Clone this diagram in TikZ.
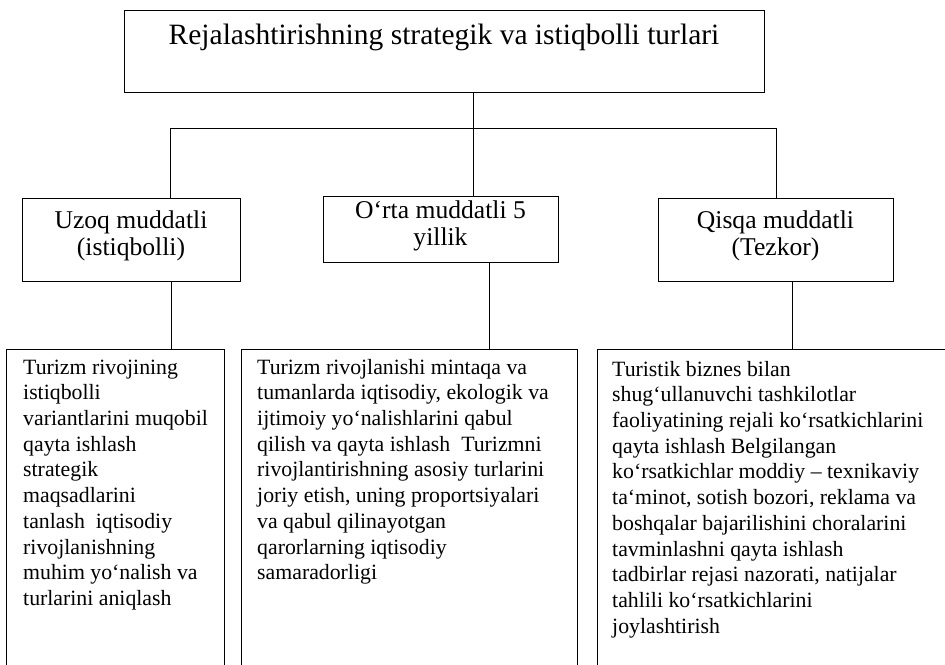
\documentclass[tikz,border=0pt]{standalone}
\usepackage{fontspec}
\setmainfont{Liberation Serif}
\begin{document}
\begin{tikzpicture}[x=1pt,y=-1pt,
  box/.style={draw, line width=0.9pt, inner sep=0pt, outer sep=0pt, anchor=north west, rectangle},
  link/.style={draw, line width=0.9pt},
  titletext/.style={font=\fontsize{29.5}{34}\selectfont, anchor=base, inner sep=0pt},
  labeltext/.style={font=\fontsize{25.6}{27}\selectfont, align=center, anchor=north, inner sep=0pt},
  bodytext/.style={font=\fontsize{21.8}{25.7}\selectfont, align=left, anchor=north west, inner sep=0pt}]
\useasboundingbox (0,0) rectangle (945,664);
\clip (0,0) rectangle (945,664);
% boxes
\node[box, minimum width=640pt, minimum height=82pt] (top) at (124,10) {};
\node[box, minimum width=218pt, minimum height=83pt] (lbox) at (22,198) {};
\node[box, minimum width=235pt, minimum height=66pt] (mbox) at (323,196) {};
\node[box, minimum width=235pt, minimum height=83pt] (rbox) at (658,198) {};
\node[box, minimum width=218pt, minimum height=360pt] (lowl) at (6,349) {};
\node[box, minimum width=336pt, minimum height=360pt] (lowm) at (241,349) {};
\node[box, minimum width=400pt, minimum height=360pt] (lowr) at (597,349) {};
% texts
\node[titletext] (ttitle) at (444,44) {Rejalashtirishning strategik va istiqbolli turlari};
\node[labeltext] (tl) at (131,209) {\strut Uzoq muddatli\\(istiqbolli)};
\node[labeltext] (tm) at (440.5,199) {\strut O`rta muddatli 5\\yillik};
\node[labeltext] (tr) at (775.5,209) {\strut Qisqa muddatli\\(Tezkor)};
\node[bodytext] (bl) at (23,356) {\strut Turizm rivojining\\istiqbolli\\variantlarini muqobil\\qayta ishlash\\strategik\\maqsadlarini\\tanlash~~iqtisodiy\\rivojlanishning\\muhim yo`nalish va\\turlarini aniqlash};
\node[bodytext] (bm) at (257,356) {\strut Turizm rivojlanishi mintaqa va\\tumanlarda iqtisodiy, ekologik va\\ijtimoiy yo`nalishlarini qabul\\qilish va qayta ishlash~~Turizmni\\rivojlantirishning asosiy turlarini\\joriy etish, uning proportsiyalari\\va qabul qilinayotgan\\qarorlarning iqtisodiy\\samaradorligi};
\node[bodytext] (br) at (612,358) {\strut Turistik biznes bilan\\shug`ullanuvchi tashkilotlar\\faoliyatining rejali ko`rsatkichlarini\\qayta ishlash Belgilangan\\ko`rsatkichlar moddiy -- texnikaviy\\ta`minot, sotish bozori, reklama va\\boshqalar bajarilishini choralarini\\tavminlashni qayta ishlash\\tadbirlar rejasi nazorati, natijalar\\tahlili ko`rsatkichlarini\\joylashtirish};
% connectors
\coordinate (tj) at (473,128);
\coordinate (hl) at (170,128);
\coordinate (hr) at (776,128);
\coordinate (cx1) at (171,0);
\coordinate (cx2) at (489,0);
\coordinate (cx3) at (792,0);
\draw[link] (top.south -| tj) -- (mbox.north -| tj);
\draw[link] (hl) -- (hr);
\draw[link] (hl) -- (lbox.north -| hl);
\draw[link] (hr) -- (rbox.north -| hr);
\draw[link] (lbox.south -| cx1) -- (lowl.north -| cx1);
\draw[link] (mbox.south -| cx2) -- (lowm.north -| cx2);
\draw[link] (rbox.south -| cx3) -- (lowr.north -| cx3);
\end{tikzpicture}
\end{document}
